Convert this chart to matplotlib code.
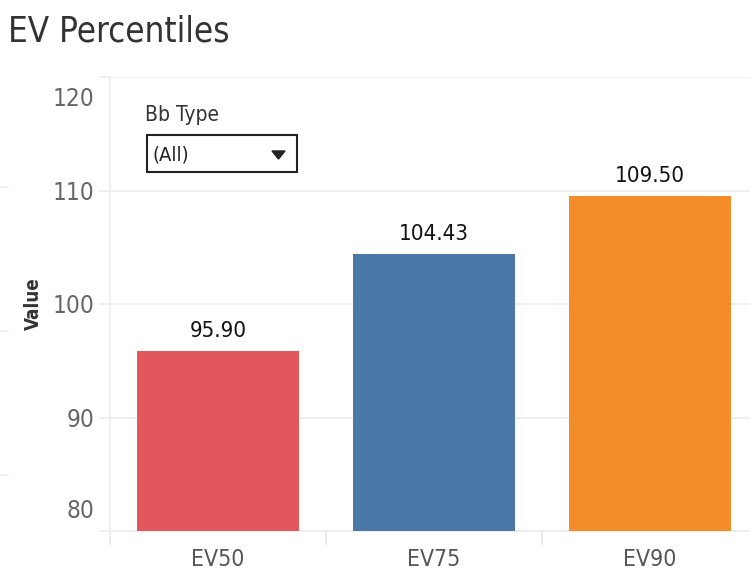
import numpy as np
import matplotlib
matplotlib.use('Agg')
import matplotlib.pyplot as plt
from matplotlib.lines import Line2D
from matplotlib.patches import Rectangle, Polygon
from matplotlib.transforms import ScaledTranslation

plt.rcParams['font.family'] = ['DejaVu Sans']
plt.rcParams['font.stretch'] = 'condensed'

categories = ['EV50', 'EV75', 'EV90']
values = [95.90, 104.43, 109.50]
colors = ['#e2575c', '#4b78a6', '#f28d2a']
y_ticks = [80, 90, 100, 110, 120]

W, H = 750, 586
fig = plt.figure(figsize=(W / 100, H / 100), dpi=100)
ax = fig.add_axes([110 / W, (H - 531) / H, 640 / W, (531 - 77) / H])

x = np.arange(len(categories))
ax.bar(x, np.array(values) - 80, bottom=80, width=0.75, color=colors, zorder=3)
for xi, v in zip(x, values):
    ax.annotate(f'{v:.2f}', (xi, v), xytext=(0, 7), textcoords='offset points',
                ha='center', va='bottom', fontsize=16, color='#111111')

ax.set_ylim(80, 120)
ax.set_xlim(-0.5, -0.5 + 640 / 216)
ax.set_yticks(y_ticks)
ax.set_yticklabels([str(t) for t in y_ticks])
ax.set_xticks(x)
ax.set_xticklabels(categories)
ax.set_xticks(np.arange(len(categories)) - 0.5, minor=True)

grid_c = '#ececec'
ax.yaxis.grid(True, color=grid_c, lw=1.2, zorder=0)
ax.tick_params(axis='y', length=8, color=grid_c, width=1.2, labelsize=17.5,
               labelcolor='#666666', pad=3)
ax.tick_params(axis='x', which='major', length=0, labelsize=16.5,
               labelcolor='#555555', pad=12)
ax.tick_params(axis='x', which='minor', length=10, color=grid_c, width=1.5)
labs = ax.get_yticklabels()
labs[0].set_va('bottom')
labs[0].set_transform(labs[0].get_transform() + ScaledTranslation(0, 8 / 100, fig.dpi_scale_trans))
labs[-1].set_va('top')
labs[-1].set_transform(labs[-1].get_transform() + ScaledTranslation(0, -10 / 100, fig.dpi_scale_trans))

for s in ['top', 'right']:
    ax.spines[s].set_visible(False)
for s in ['left', 'bottom']:
    ax.spines[s].set_color(grid_c)
    ax.spines[s].set_linewidth(1.2)

ax.set_ylabel('Value', fontsize=13.5, color='#333333', fontweight='bold')
ax.yaxis.set_label_coords((43 - 110) / 640, 0.5)

fig.text(8 / W, 1 - 31 / H, 'EV Percentiles', fontsize=25, color='#333333',
         ha='left', va='center')

# filter widget
fig.text(145 / W, 1 - 115 / H, 'Bb Type', fontsize=15, color='#333333',
         ha='left', va='center')
fig.patches.append(Rectangle((147 / W, 1 - 172 / H), 150 / W, 37 / H,
                             transform=fig.transFigure, fill=True,
                             facecolor='white', edgecolor='#222222', lw=1.5,
                             zorder=5))
fig.text(153 / W, 1 - 155 / H, '(All)', fontsize=14.5, color='#222222',
         ha='left', va='center', zorder=6)
fig.patches.append(Polygon([(272 / W, 1 - 151 / H), (285 / W, 1 - 151 / H),
                            (278.5 / W, 1 - 159 / H)], closed=True,
                           transform=fig.transFigure, color='#222222', zorder=6))

# stray panel edges at left
for yy in [187, 331, 475]:
    fig.add_artist(Line2D([0, 8 / W], [1 - yy / H, 1 - yy / H],
                          transform=fig.transFigure, color=grid_c, lw=1.2))

fig.savefig('out.png', dpi=100, facecolor='white')
